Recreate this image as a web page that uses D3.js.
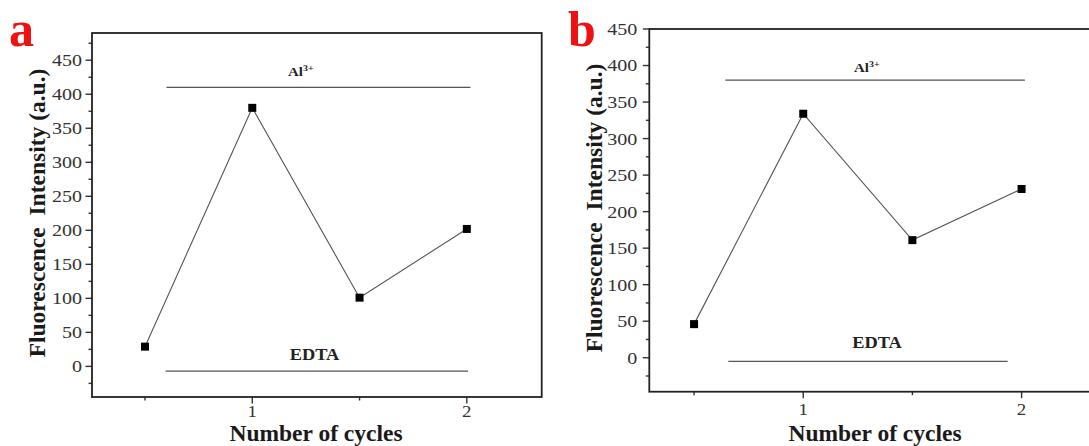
<!DOCTYPE html>
<html>
<head>
<meta charset="utf-8">
<script src="https://cdn.jsdelivr.net/npm/d3@7"></script>
<style>
  html, body { margin: 0; padding: 0; background: #fff; }
  svg { display: block; }
</style>
</head>
<body>
<svg id="chart" width="1089" height="446"></svg>
<script>
// Fluorescence intensity over Al3+ / EDTA cycles
const cycles = [0.5, 1, 1.5, 2];
const intensityA = [29, 380, 101, 202];
const intensityB = [46, 334, 161, 231];

const yMajorTicks = [0, 50, 100, 150, 200, 250, 300, 350, 400, 450];
const xMajorTicks = [1, 2];
const xMinorTicks = [0.5, 1.5];

// reference levels: [xStart, xEnd, level]
const al3LevelA = [0.6, 2.017, 410];
const edtaLevelA = [0.596, 2.006, -7];
const al3LevelB = [0.643, 2.015, 380];
const edtaLevelB = [0.657, 1.936, -5];

const panelLetters = ["a", "b"];
const xTitle = "Number of cycles";
const yTitle = "Fluorescence\u00a0\u00a0Intensity (a.u.)";

const FONT = "'Liberation Serif', 'Times New Roman', Times, serif";

const svg = d3.select("#chart");

function hText(g, x, y, str, size, opts = {}) {
  const sx = opts.sx || 1;
  return g.append("text")
    .attr("transform", `translate(${x},${y}) scale(${sx},1)`)
    .attr("font-family", FONT)
    .attr("font-size", size)
    .attr("font-weight", opts.bold ? "bold" : "normal")
    .attr("fill", opts.fill || "#222")
    .attr("text-anchor", opts.anchor || "middle")
    .attr("dominant-baseline", opts.baseline || "auto")
    .text(str);
}

function drawPanel(p) {
  const g = svg.append("g");
  const x = d3.scaleLinear().domain(p.xDomain).range([p.left, p.right]);
  const y = d3.scaleLinear().domain(p.yDomain).range([p.bottom, p.top]);

  // y ticks (major labelled, minor halfway)
  const yMinor = d3.range(-25, p.yDomain[1], 50).filter(v => v > p.yDomain[0]);
  g.selectAll(".ymaj").data(yMajorTicks).join("line")
    .attr("x1", p.left - 6.5).attr("x2", p.left)
    .attr("y1", d => y(d)).attr("y2", d => y(d))
    .attr("stroke", "#333").attr("stroke-width", 1.4);
  g.selectAll(".ymin").data(yMinor).join("line")
    .attr("x1", p.left - 3.5).attr("x2", p.left)
    .attr("y1", d => y(d)).attr("y2", d => y(d))
    .attr("stroke", "#333").attr("stroke-width", 1.4);
  yMajorTicks.forEach(v => {
    hText(g, p.left - p.yLabelGap, y(v), String(v), 17,
      { anchor: "end", baseline: "central", fill: "#333", sx: 1.18 });
  });

  // x ticks
  g.selectAll(".xmaj").data(xMajorTicks).join("line")
    .attr("x1", d => x(d)).attr("x2", d => x(d))
    .attr("y1", p.bottom).attr("y2", p.bottom + 6.5)
    .attr("stroke", "#333").attr("stroke-width", 1.4);
  g.selectAll(".xmin").data(xMinorTicks).join("line")
    .attr("x1", d => x(d)).attr("x2", d => x(d))
    .attr("y1", p.bottom).attr("y2", p.bottom + 3.5)
    .attr("stroke", "#333").attr("stroke-width", 1.4);
  xMajorTicks.forEach(v => {
    hText(g, x(v), p.xLabelBase, String(v), 16, { fill: "#333", sx: 1.18 });
  });

  // frame
  g.append("rect")
    .attr("x", p.left).attr("y", p.top)
    .attr("width", p.right - p.left).attr("height", p.bottom - p.top)
    .attr("fill", "none").attr("stroke", "#222").attr("stroke-width", 1.8);

  // reference levels
  [p.al3, p.edta].forEach(l => {
    g.append("line")
      .attr("x1", x(l[0])).attr("x2", x(l[1]))
      .attr("y1", y(l[2])).attr("y2", y(l[2]))
      .attr("stroke", "#555").attr("stroke-width", 1.3);
  });
  // Al3+ label
  const al = g.append("text")
    .attr("transform", `translate(${x(p.al3Label[0])},${y(p.al3Label[1])}) scale(1.1,1)`)
    .attr("font-family", FONT).attr("font-weight", "bold")
    .attr("font-size", 13.5).attr("fill", "#222")
    .attr("text-anchor", "start");
  al.append("tspan").text("Al");
  al.append("tspan").text("3+").attr("font-size", 9).attr("dy", -5);
  hText(g, x(p.edtaLabel[0]), y(p.edtaLabel[1]), "EDTA", 17, { bold: true, sx: 1.08 });

  // data line + markers
  const pts = cycles.map((c, i) => [c, p.values[i]]);
  g.append("path")
    .attr("d", d3.line().x(d => x(d[0])).y(d => y(d[1]))(pts))
    .attr("fill", "none").attr("stroke", "#555").attr("stroke-width", 1.1);
  g.selectAll(".pt").data(pts).join("rect")
    .attr("x", d => x(d[0]) - 4).attr("y", d => y(d[1]) - 4)
    .attr("width", 8).attr("height", 8).attr("fill", "#000");

  // axis titles
  hText(g, p.xTitleX, 440.5, xTitle, 23.5, { bold: true, fill: "#1a1a1a" });
  g.append("text")
    .attr("transform", `translate(${p.yTitleX},${p.yTitleY}) rotate(-90)`)
    .attr("font-family", FONT).attr("font-weight", "bold")
    .attr("font-size", 23.5).attr("fill", "#1a1a1a")
    .attr("text-anchor", "middle")
    .text(yTitle);

  // panel letter
  g.append("text")
    .attr("x", p.letterX).attr("y", 46)
    .attr("font-family", FONT).attr("font-weight", "bold")
    .attr("font-size", 50).attr("fill", "#ee1111")
    .text(p.letter);
}

drawPanel({
  letter: panelLetters[0], letterX: 9,
  left: 92, right: 541.7, top: 33, bottom: 397,
  xDomain: [0.253, 2.349], yDomain: [-45, 490],
  values: intensityA,
  al3: al3LevelA, edta: edtaLevelA,
  al3Label: [1.167, 427], edtaLabel: [1.29, 10],
  yLabelGap: 10, xLabelBase: 416.5,
  xTitleX: 316, yTitleX: 45, yTitleY: 213
});

drawPanel({
  letter: panelLetters[1], letterX: 568,
  left: 649.3, right: 1098, top: 29, bottom: 391.7,
  xDomain: [0.295, 2.35], yDomain: [-46.5, 450],
  values: intensityB,
  al3: al3LevelB, edta: edtaLevelB,
  al3Label: [1.233, 391.5], edtaLabel: [1.338, 13],
  yLabelGap: 12, xLabelBase: 415,
  xTitleX: 875, yTitleX: 601.5, yTitleY: 208
});
</script>
</body>
</html>
